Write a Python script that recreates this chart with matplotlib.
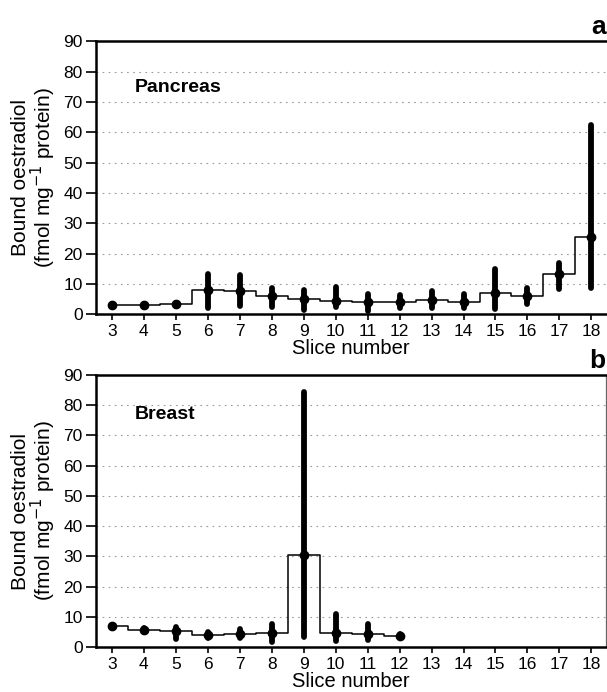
import matplotlib
matplotlib.use("Agg")
import matplotlib.pyplot as plt
import numpy as np

plt.rcParams['font.family'] = ['Liberation Sans', 'DejaVu Sans']

# Panel a: Pancreas
slices_a = [3, 4, 5, 6, 7, 8, 9, 10, 11, 12, 13, 14, 15, 16, 17, 18]
mean_a = [3.0, 3.0, 3.3, 8.1, 7.7, 5.9, 5.1, 4.5, 4.1, 4.1, 4.7, 4.1, 6.9, 6.0, 13.1, 25.4]
hi_a = [3.4, 3.4, 3.8, 13.4, 12.9, 8.5, 8.1, 8.8, 6.8, 6.3, 7.7, 6.8, 14.8, 8.5, 16.9, 62.5]
lo_a = [2.6, 2.6, 2.8, 1.9, 2.6, 2.2, 1.5, 2.4, 1.1, 1.9, 1.9, 1.9, 1.6, 3.3, 8.2, 8.5]

# Panel b: Breast
slices_b = [3, 4, 5, 6, 7, 8, 9, 10, 11, 12]
mean_b = [6.8, 5.7, 5.2, 4.0, 4.4, 4.7, 30.5, 4.8, 4.4, 3.8]
hi_b = [7.3, 6.3, 6.6, 5.0, 5.9, 7.6, 84.5, 11.0, 7.6, 4.4]
lo_b = [6.3, 5.1, 2.6, 3.0, 2.9, 1.8, 3.4, 2.1, 2.3, 3.2]

xticks = list(range(3, 19))
yticks = list(range(0, 91, 10))

fig = plt.figure(figsize=(6.07, 6.92), dpi=100)
ax_a = fig.add_axes([0.158, 0.546, 0.840, 0.3945])
ax_b = fig.add_axes([0.158, 0.065, 0.840, 0.393])

def draw(ax, xs, m, hi, lo, name, name_y, letter, right_spine):
    ax.set_xlim(2.5, 18.45)
    ax.set_ylim(0, 90)
    for y in yticks[1:-1]:
        ax.axhline(y, color='#9a9a9a', lw=0.8, ls=(0, (1.5, 4)), zorder=0)
    ax.plot(xs, m, drawstyle='steps-mid', color='black', lw=1.1, zorder=2)
    for x, h, l in zip(xs, hi, lo):
        ax.plot([x, x], [l, h], color='black', lw=4.2, solid_capstyle='round', zorder=3)
    ax.plot(xs, m, 'o', color='black', ms=6, zorder=4)
    ax.set_xticks(xticks)
    ax.set_yticks(yticks)
    ax.tick_params(axis='x', direction='out', length=4.5, width=1.2, labelsize=12.5, pad=2.5)
    ax.tick_params(axis='y', direction='out', length=7, width=1.2, labelsize=12.5, pad=2.5)
    for s in ['left', 'bottom', 'top']:
        ax.spines[s].set_linewidth(1.8)
    if right_spine:
        ax.spines['right'].set_linewidth(0.9)
        ax.spines['right'].set_color('#666666')
    else:
        ax.spines['right'].set_visible(False)
    ax.set_xlabel('Slice number', fontsize=14.5, labelpad=0)
    ax.set_ylabel('Bound oestradiol\n(fmol mg$^{-1}$ protein)', fontsize=15,
                  labelpad=4, linespacing=0.95)
    ax.text(0.076, name_y, name, transform=ax.transAxes, fontsize=14,
            fontweight='bold', va='center', ha='left')
    ax.text(1.0, 1.008, letter, transform=ax.transAxes, fontsize=19,
            fontweight='bold', va='bottom', ha='right')

draw(ax_a, slices_a, mean_a, hi_a, lo_a, 'Pancreas', 0.83, 'a', False)
draw(ax_b, slices_b, mean_b, hi_b, lo_b, 'Breast', 0.855, 'b', True)

fig.savefig('out.png', dpi=100)
